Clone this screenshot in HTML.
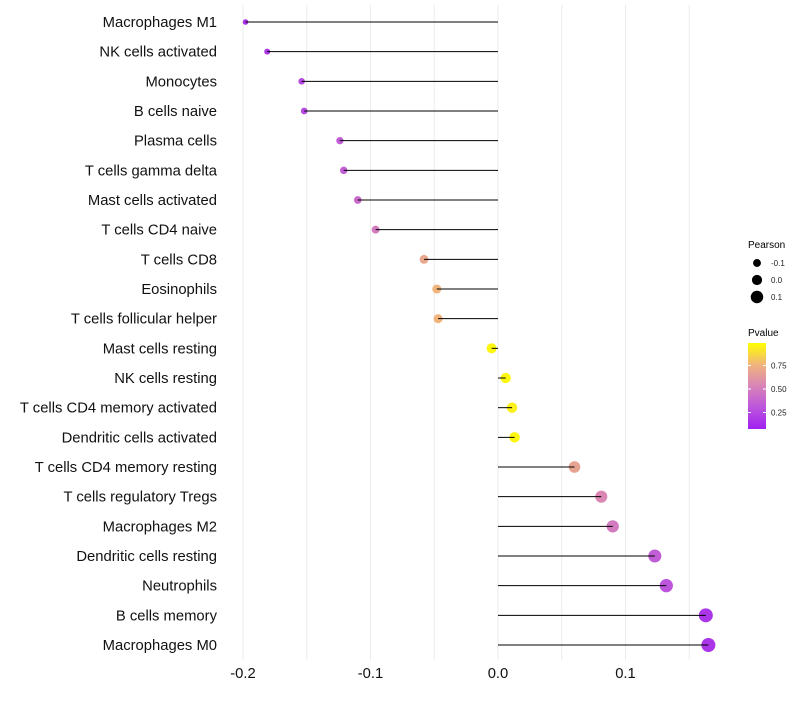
<!DOCTYPE html>
<html><head><meta charset="utf-8"><style>
body{margin:0;background:#fff;font-family:"Liberation Sans",sans-serif}
</style></head><body>
<svg id="chart" width="800" height="700" xmlns="http://www.w3.org/2000/svg" font-family="Liberation Sans, sans-serif">
<g id="grid"></g>
<g id="marks"></g>
<g id="ylabels"></g>
<g id="xlabels"></g>
<g>
<text x="748" y="248" font-size="10" fill="#000">Pearson</text>
<g id="sizeLegend"></g>
</g>
<g>
<text x="748" y="336" font-size="10" fill="#000">Pvalue</text>
<defs><linearGradient id="pg" x1="0" y1="1" x2="0" y2="0">
<stop offset="0" stop-color="#a020f0"/><stop offset="0.25" stop-color="#bc55dc"/><stop offset="0.5" stop-color="#d884b8"/><stop offset="0.75" stop-color="#f0b47c"/><stop offset="1" stop-color="#ffff00"/>
</linearGradient></defs>
<rect x="748" y="343" width="18" height="86" fill="url(#pg)"/>
<g id="cbLabels"></g>
</g>
</svg>
<script>
const categories=["Macrophages M1","NK cells activated","Monocytes","B cells naive","Plasma cells","T cells gamma delta","Mast cells activated","T cells CD4 naive","T cells CD8","Eosinophils","T cells follicular helper","Mast cells resting","NK cells resting","T cells CD4 memory activated","Dendritic cells activated","T cells CD4 memory resting","T cells regulatory  Tregs ","Macrophages M2","Dendritic cells resting","Neutrophils","B cells memory","Macrophages M0"];
const pearson=[-0.198,-0.181,-0.154,-0.152,-0.124,-0.121,-0.110,-0.096,-0.058,-0.048,-0.047,-0.005,0.006,0.011,0.013,0.060,0.081,0.090,0.123,0.132,0.163,0.165];
const pvalue=[0.08,0.12,0.2,0.2,0.3,0.3,0.36,0.45,0.68,0.75,0.75,0.97,0.97,0.95,0.97,0.66,0.52,0.45,0.3,0.25,0.1,0.1];
const xTicks=[-0.2,-0.1,0.0,0.1];
const xTickLabels=["-0.2","-0.1","0.0","0.1"];
const sizeLegendVals=[-0.1,0.0,0.1];
const cbVals=[0.25,0.5,0.75];
const NS="http://www.w3.org/2000/svg";
const x=v=>498+v*1275;
const y=i=>22+i*29.667;
const r=v=>Math.max(1.5,5.1+v*11.6);
const cy=p=>436-p*94;
const stops=[[0,[160,32,240]],[0.25,[188,85,220]],[0.5,[216,132,184]],[0.75,[240,180,124]],[1,[255,255,0]]];
function col(p){for(let i=0;i<stops.length-1;i++){const[a,c1]=stops[i],[b,c2]=stops[i+1];if(p<=b){const t=(p-a)/(b-a);return`rgb(${c1.map((c,k)=>Math.round(c+(c2[k]-c)*t)).join(",")})`;}}return"rgb(255,255,0)";}
function mk(t,a,parent){const e=document.createElementNS(NS,t);for(const k in a)e.setAttribute(k,a[k]);document.getElementById(parent).appendChild(e);return e;}
for(let v=-0.2;v<=0.151;v+=0.05){const g=mk("line",{x1:x(v),x2:x(v),y1:5,y2:660,stroke:"#ebebeb","stroke-width":1},"grid");

}
categories.forEach((c,i)=>{
const pt=mk("circle",{cx:x(pearson[i]),cy:y(i),r:r(pearson[i]),fill:col(pvalue[i])},"marks");


const ln=mk("line",{x1:x(0),x2:x(pearson[i]),y1:y(i),y2:y(i),stroke:"#000","stroke-width":1},"marks");


const t=mk("text",{x:217,y:y(i)+5,"text-anchor":"end","font-size":14.8,fill:"#111"},"ylabels");
t.textContent=c;


});
xTicks.forEach((v,i)=>{const t=mk("text",{x:x(v),y:678,"text-anchor":"middle","font-size":14.8,fill:"#111"},"xlabels");t.textContent=xTickLabels[i];

});
sizeLegendVals.forEach((v,i)=>{const yy=263+i*17;
const c=mk("circle",{cx:757,cy:yy,r:r(v),fill:"#000"},"sizeLegend");


const t=mk("text",{x:771,y:yy+3,"font-size":8,fill:"#222"},"sizeLegend");t.textContent=v.toFixed(1);

});
cbVals.forEach(v=>{const t=mk("text",{x:771,y:cy(v)+3,"font-size":8,fill:"#222"},"cbLabels");t.textContent=v.toFixed(2);


mk("line",{x1:748,x2:751,y1:cy(v),y2:cy(v),stroke:"#fff"},"cbLabels");mk("line",{x1:763,x2:766,y1:cy(v),y2:cy(v),stroke:"#fff"},"cbLabels");});
</script>
</body></html>
